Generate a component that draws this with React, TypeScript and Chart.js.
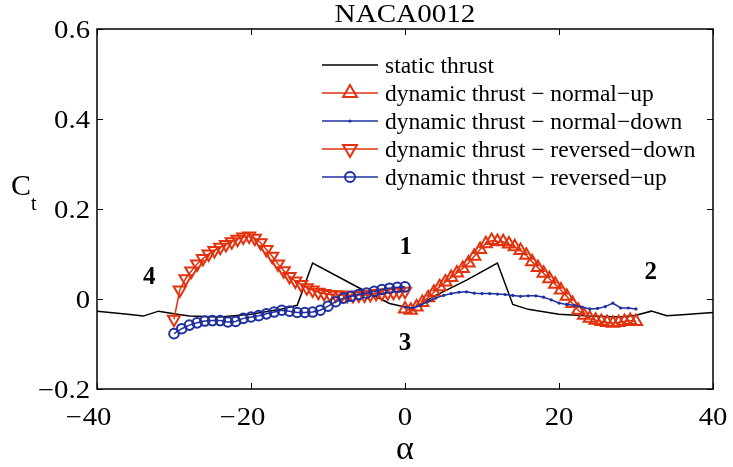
import React, { useEffect, useRef } from "react";
import { Chart, registerables } from "chart.js";

Chart.register(...registerables);

const RED = "rgb(226,50,14)";
const BLUE = "rgb(30,48,160)";
const SERIF = '"Liberation Serif", "Times New Roman", serif';

const titleText = "NACA0012";
const xTicks = [-40, -20, 0, 20, 40];
const yTicks = [-0.2, 0, 0.2, 0.4, 0.6];

const staticAlpha = [-40, -36, -34, -32, -30, -28, -24, -20, -16, -14, -12, -6, -2, 0, 1, 4, 8, 12, 14, 16, 20, 24, 28, 30, 32, 34, 36, 40];
const staticCt = [-0.027, -0.034, -0.038, -0.027, -0.033, -0.038, -0.040, -0.034, -0.022, -0.014, 0.080, 0.025, -0.010, -0.018, -0.021, 0.008, 0.042, 0.080, -0.012, -0.023, -0.034, -0.038, -0.040, -0.036, -0.027, -0.037, -0.035, -0.030];

const normalUpAlpha = [0, 0.75, 1.5, 2.25, 3, 3.75, 4.5, 5.25, 6, 6.75, 7.5, 8.25, 9, 9.75, 10.5, 11.25, 12, 12.75, 13.5, 14.25, 15, 15.75, 16.5, 17.25, 18, 18.75, 19.5, 20.25, 21, 21.75, 22.5, 23.25, 24, 24.75, 25.5, 26.25, 27, 27.75, 28.5, 29.25, 30];
const normalUpCt = [-0.022, -0.025, -0.018, -0.008, 0.003, 0.015, 0.027, 0.038, 0.048, 0.058, 0.068, 0.080, 0.095, 0.110, 0.123, 0.130, 0.128, 0.127, 0.122, 0.116, 0.108, 0.097, 0.083, 0.070, 0.057, 0.045, 0.033, 0.020, 0.006, -0.010, -0.025, -0.036, -0.043, -0.047, -0.050, -0.052, -0.054, -0.052, -0.050, -0.048, -0.050];

const normalDownAlpha = [0, 1, 2, 3, 4, 5, 6, 7, 8, 9, 10, 11, 12, 13, 14, 15, 16, 17, 18, 19, 20, 21, 22, 23, 24, 25, 26, 27, 28, 29, 30];
const normalDownCt = [-0.018, -0.020, -0.014, -0.005, 0.002, 0.008, 0.012, 0.015, 0.016, 0.013, 0.012, 0.012, 0.011, 0.010, 0.008, 0.006, 0.007, 0.007, 0.004, -0.002, -0.009, -0.012, -0.014, -0.018, -0.022, -0.021, -0.017, -0.009, -0.020, -0.020, -0.022];

const reversedDownAlpha = [-30, -29.25, -28.5, -27.75, -27, -26.25, -25.5, -24.75, -24, -23.25, -22.5, -21.75, -21, -20.25, -19.5, -18.75, -18, -17.25, -16.5, -15.75, -15, -14.25, -13.5, -12.75, -12, -11.25, -10.5, -9.75, -9, -8.25, -7.5, -6.75, -6, -5.25, -4.5, -3.75, -3, -2.25, -1.5, -0.75, 0];
const reversedDownCt = [-0.045, 0.020, 0.045, 0.062, 0.078, 0.090, 0.100, 0.108, 0.115, 0.121, 0.127, 0.133, 0.138, 0.140, 0.135, 0.125, 0.110, 0.095, 0.078, 0.063, 0.050, 0.040, 0.032, 0.025, 0.020, 0.015, 0.012, 0.010, 0.009, 0.009, 0.008, 0.008, 0.009, 0.009, 0.010, 0.012, 0.013, 0.014, 0.015, 0.016, 0.017];

const reversedUpAlpha = [-30, -29, -28, -27, -26, -25, -24, -23, -22, -21, -20, -19, -18, -17, -16, -15, -14, -13, -12, -11, -10, -9, -8, -7, -6, -5, -4, -3, -2, -1, 0];
const reversedUpCt = [-0.077, -0.066, -0.058, -0.053, -0.049, -0.048, -0.048, -0.051, -0.050, -0.043, -0.040, -0.037, -0.033, -0.029, -0.025, -0.027, -0.030, -0.030, -0.029, -0.025, -0.016, -0.006, 0.002, 0.006, 0.010, 0.013, 0.017, 0.021, 0.024, 0.026, 0.027];

const legendLabels = [
  "static thrust",
  "dynamic thrust \u2212 normal\u2212up",
  "dynamic thrust \u2212 normal\u2212down",
  "dynamic thrust \u2212 reversed\u2212down",
  "dynamic thrust \u2212 reversed\u2212up",
];

const regionLabels = ["1", "2", "3", "4"];
const regionAlpha = [0.1, 31.9, 0, -33.2];
const regionCt = [0.114, 0.059, -0.098, 0.048];

function pts(xs: number[], ys: number[]) {
  return xs.map((x, i) => ({ x, y: ys[i] }));
}

function stretchText(ctx: CanvasRenderingContext2D, text: string, x: number, y: number, sx: number) {
  ctx.save();
  ctx.translate(x, y);
  ctx.scale(sx, 1);
  ctx.fillText(text, 0, 0);
  ctx.restore();
}

function drawMarker(ctx: CanvasRenderingContext2D, kind: string, x: number, y: number, r: number, color: string) {
  ctx.save();
  ctx.strokeStyle = color;
  ctx.fillStyle = color;
  ctx.lineWidth = 2;
  ctx.beginPath();
  if (kind === "up" || kind === "down") {
    const s = kind === "up" ? -1 : 1;
    ctx.moveTo(x, y + s * r);
    ctx.lineTo(x + r * 0.866, y - s * r * 0.5);
    ctx.lineTo(x - r * 0.866, y - s * r * 0.5);
    ctx.closePath();
    ctx.stroke();
  } else if (kind === "circle") {
    ctx.arc(x, y, r, 0, Math.PI * 2);
    ctx.stroke();
  } else if (kind === "dot") {
    ctx.arc(x, y, r, 0, Math.PI * 2);
    ctx.fill();
  }
  ctx.restore();
}

export default function App() {
  const ref = useRef<HTMLCanvasElement | null>(null);

  useEffect(() => {
    document.body.style.margin = "0";
    const legendKinds = ["none", "up", "dot", "down", "circle"];
    const legendColors = ["#000", RED, BLUE, RED, BLUE];
    const legendR = [0, 8, 1.6, 8, 5];

    const overlay = {
      id: "overlay",
      afterDraw(chart: any) {
        const ctx: CanvasRenderingContext2D = chart.ctx;
        const a = chart.chartArea;
        const xs = chart.scales.x;
        const ys = chart.scales.y;
        ctx.save();
        // box
        ctx.strokeStyle = "#000";
        ctx.lineWidth = 1.5;
        ctx.strokeRect(a.left, a.top, a.right - a.left, a.bottom - a.top);
        // ticks
        ctx.lineWidth = 1;
        const tl = 6;
        xTicks.forEach((v) => {
          const px = Math.round(xs.getPixelForValue(v)) + 0.5;
          ctx.beginPath();
          ctx.moveTo(px, a.bottom);
          ctx.lineTo(px, a.bottom - tl);
          ctx.moveTo(px, a.top);
          ctx.lineTo(px, a.top + tl);
          ctx.stroke();
        });
        yTicks.forEach((v) => {
          const py = Math.round(ys.getPixelForValue(v)) + 0.5;
          ctx.beginPath();
          ctx.moveTo(a.left, py);
          ctx.lineTo(a.left + tl, py);
          ctx.moveTo(a.right, py);
          ctx.lineTo(a.right - tl, py);
          ctx.stroke();
        });
        // tick labels
        ctx.fillStyle = "#000";
        const sx = 1.15;
        ctx.font = `25px ${SERIF}`;
        ctx.textBaseline = "alphabetic";
        xTicks.forEach((v) => {
          const px = xs.getPixelForValue(v);
          const s = String(Math.abs(v));
          const w = ctx.measureText(s).width * sx;
          ctx.textAlign = "center";
          stretchText(ctx, s, px, a.bottom + 36, sx);
          if (v < 0) {
            ctx.textAlign = "right";
            stretchText(ctx, "\u2212", px - w / 2 - 1, a.bottom + 36, sx);
          }
        });
        yTicks.forEach((v) => {
          const py = ys.getPixelForValue(v);
          const s = v === 0 ? "0" : (v < 0 ? "\u2212" : "") + Math.abs(v).toFixed(1);
          ctx.textAlign = "right";
          stretchText(ctx, s, a.left - 7, py + 9, sx);
        });
        // title
        ctx.font = `26px ${SERIF}`;
        ctx.textAlign = "center";
        stretchText(ctx, titleText, (a.left + a.right) / 2, 22, 1.12);
        // axis titles
        ctx.font = `34px ${SERIF}`;
        stretchText(ctx, "\u03b1", (a.left + a.right) / 2, 459, 1.0);
        ctx.textAlign = "left";
        ctx.font = `30px ${SERIF}`;
        stretchText(ctx, "C", 11, 195, 1.0);
        ctx.font = `20px ${SERIF}`;
        stretchText(ctx, "t", 31, 210, 1.0);
        // region labels
        ctx.font = `bold 25px ${SERIF}`;
        ctx.textAlign = "center";
        ctx.textBaseline = "middle";
        regionLabels.forEach((t, i) => {
          const px = xs.getPixelForValue(regionAlpha[i]);
          const py = ys.getPixelForValue(regionCt[i]);
          ctx.fillText(t, px, py);
        });
        // legend
        const rows = [65, 93, 121, 149, 177];
        ctx.font = `23.5px ${SERIF}`;
        ctx.textAlign = "left";
        ctx.textBaseline = "alphabetic";
        legendLabels.forEach((t, i) => {
          const y = rows[i];
          ctx.strokeStyle = legendColors[i];
          ctx.lineWidth = 1.5;
          ctx.beginPath();
          ctx.moveTo(322, y);
          ctx.lineTo(378, y);
          ctx.stroke();
          if (legendKinds[i] !== "none") drawMarker(ctx, legendKinds[i], 350, y, legendR[i], legendColors[i]);
          ctx.fillStyle = "#000";
          ctx.fillText(t, 385, y + 8);
        });
        ctx.restore();
      },
    };

    const chart = new Chart(ref.current as HTMLCanvasElement, {
      type: "line",
      data: {
        datasets: [
          {
            label: legendLabels[0],
            data: pts(staticAlpha, staticCt),
            borderColor: "#000",
            borderWidth: 1.5,
            pointRadius: 0,
            order: 5,
          },
          {
            label: legendLabels[1],
            data: pts(normalUpAlpha, normalUpCt),
            borderColor: RED,
            borderWidth: 1.5,
            pointStyle: "triangle",
            pointRadius: 7,
            pointBorderWidth: 2,
            pointBorderColor: RED,
            pointBackgroundColor: "rgba(0,0,0,0)",
            order: 4,
          },
          {
            label: legendLabels[2],
            data: pts(normalDownAlpha, normalDownCt),
            borderColor: BLUE,
            borderWidth: 1.5,
            pointStyle: "circle",
            pointRadius: 1.6,
            pointBorderWidth: 0,
            pointBackgroundColor: BLUE,
            order: 3,
          },
          {
            label: legendLabels[3],
            data: pts(reversedDownAlpha, reversedDownCt),
            borderColor: RED,
            borderWidth: 1.5,
            pointStyle: "triangle",
            rotation: 180,
            pointRadius: 7,
            pointBorderWidth: 2,
            pointBorderColor: RED,
            pointBackgroundColor: "rgba(0,0,0,0)",
            order: 2,
          },
          {
            label: legendLabels[4],
            data: pts(reversedUpAlpha, reversedUpCt),
            borderColor: BLUE,
            borderWidth: 1.5,
            pointStyle: "circle",
            pointRadius: 4.8,
            pointBorderWidth: 2,
            pointBorderColor: BLUE,
            pointBackgroundColor: "rgba(0,0,0,0)",
            order: 1,
          },
        ],
      },
      options: {
        animation: false,
        responsive: false,
        events: [],
        layout: { padding: { top: 29, right: 20, left: 0, bottom: 0 } },
        elements: { line: { tension: 0 } },
        plugins: { legend: { display: false }, tooltip: { enabled: false }, title: { display: false } },
        scales: {
          x: {
            type: "linear",
            min: -40,
            max: 40,
            afterFit: (s: any) => {
              s.height = 78;
            },
            ticks: { display: false, stepSize: 20 },
            grid: { display: false },
            border: { display: false },
          },
          y: {
            type: "linear",
            min: -0.2,
            max: 0.6,
            afterFit: (s: any) => {
              s.width = 97;
            },
            ticks: { display: false, stepSize: 0.2 },
            grid: { display: false },
            border: { display: false },
          },
        },
      },
      plugins: [overlay],
    });
    return () => chart.destroy();
  }, []);

  return <canvas ref={ref} width={733} height={467} style={{ display: "block" }} />;
}
